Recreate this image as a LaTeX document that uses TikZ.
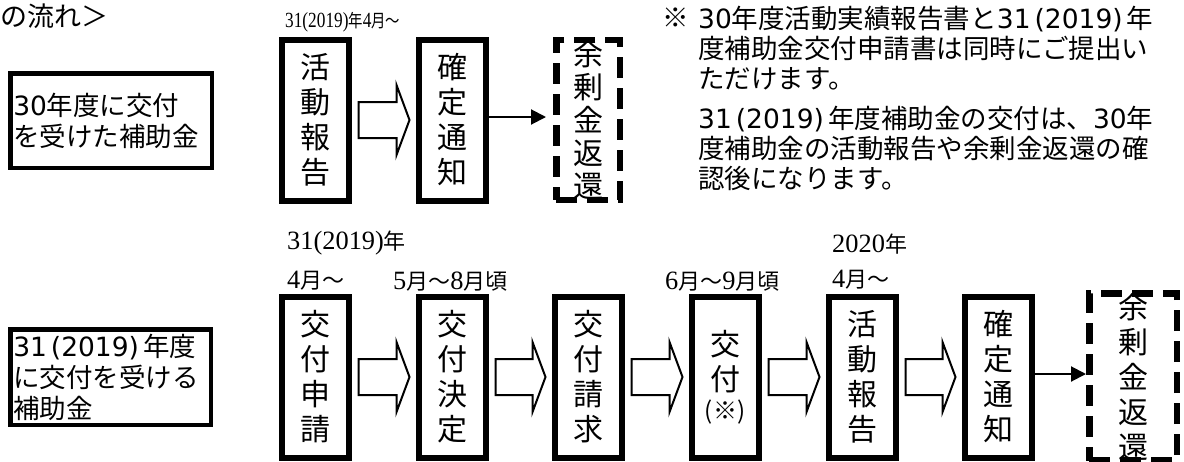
\documentclass[tikz,border=0pt]{standalone}
\usepackage{fontspec}
\newfontfamily\jp{Noto Sans CJK JP}
\newfontfamily\lserif[Scale=1.2]{Liberation Serif}
\newfontfamily\dsans{DejaVu Sans}
\usetikzlibrary{calc,arrows.meta}
\newcommand{\dg}[1]{{\lserif #1}}
\newcommand{\nd}[1]{{\dsans #1}}
\newcommand{\yr}{\nd{31}\kern4pt\nd{(2019)}\kern4pt}
\newcommand{\harr}[2]{\draw[harrow] ($(#1.east)+(7,-18)$) -- ($(#2.west)+(-19,-18)$) -- ($(#2.west)+(-19,-35)$) -- ($(#2.west)+(-6,0)$) -- ($(#2.west)+(-19,35)$) -- ($(#2.west)+(-19,18)$) -- ($(#1.east)+(7,18)$) -- cycle;}
\begin{document}
\begin{tikzpicture}[x=1pt,y=-1pt,
  every node/.style={inner sep=0pt},
  stepbox/.style={draw, line width=6pt, minimum width=67pt, minimum height=161pt, align=center, font=\jp\fontsize{30}{35}\selectfont},
  dashbox/.style={draw, line width=6.5pt, dash pattern=on 21pt off 10pt, minimum height=160pt, align=center, font=\jp\fontsize{30}{35}\selectfont},
  yearbox/.style={draw, line width=4.5pt, inner xsep=3pt, align=left, font=\jp\fontsize{26.5}{31}\selectfont},
  harrow/.style={draw, line width=2pt, fill=white, line join=miter},
  thinarrow/.style={line width=2pt, -{Triangle[length=15pt,width=15pt]}},
  lblb/.style={anchor=west, font=\jp\fontsize{22}{26}\selectfont},
  lblt/.style={anchor=west, font=\jp\fontsize{18}{21}\selectfont},
  notetxt/.style={anchor=west, align=left, font=\jp\fontsize{26.5}{30}\selectfont}
]
\useasboundingbox (0,0) rectangle (1184,461);
\fill[white] (0,0) rectangle (1184,461);

% heading fragment
\node[anchor=west, font=\jp\fontsize{27}{30}\selectfont] (head) at (0,16) {の流れ＞};

% left category boxes
\node[yearbox, text width=195.5pt, minimum height=94.5pt] (cat1) at (111,120.5) {\nd{30}年度に交付\\を受けた補助金};
\node[yearbox, text width=194.5pt, minimum height=95.5pt] (cat2) at (110.5,377) {\yr 年度\\に交付を受ける\\補助金};

% top row
\node[lblt] (t0) at (285,22) {\scalebox{0.8}[1]{\dg{31(2019)}年\dg{4}月～}};
\node[stepbox] (a1) at (315,120) {活\\動\\報\\告};
\node[stepbox] (b1) at (452,120) {確\\定\\通\\知};
\node[dashbox, minimum width=63.5pt, font=\jp\fontsize{30}{33}\selectfont] (c1) at (588,120) {余\\剰\\金\\返\\還};
\harr{a1}{b1}
\draw[thinarrow, shorten >=7pt] ($(b1.east)+(0,-3)$) -- ($(c1.west)+(0,-3)$);

% note
\node[anchor=west, font=\jp\fontsize{26.5}{30}\selectfont] (mark) at (662,18) {※};
\node[notetxt] (n1) at (698,48) {\nd{30}年度活動実績報告書と\yr 年\\度補助金交付申請書は同時にご提出い\\ただけます。};
\node[notetxt] (n2) at (698,148) {\yr 年度補助金の交付は、\nd{30}年\\度補助金の活動報告や余剰金返還の確\\認後になります。};

% bottom labels
\node[lblb] (l1) at (287,243) {\dg{31(2019)}年};
\node[lblb] (l2) at (287,281) {\dg{4}月～};
\node[lblb] (l3) at (393,281) {\dg{5}月～\dg{8}月頃};
\node[lblb] (l4) at (665,281) {\dg{6}月～\dg{9}月頃};
\node[lblb] (l5) at (832,244) {\dg{2020}年};
\node[lblb] (l6) at (832,280) {\dg{4}月～};

% bottom row
\node[stepbox] (s1) at (315,377) {交\\付\\申\\請};
\node[stepbox] (s2) at (452,377) {交\\付\\決\\定};
\node[stepbox] (s3) at (588,377) {交\\付\\請\\求};
\node[stepbox] (s4) at (725,377) {交\\付\\[-6pt]{\fontsize{24}{28}\selectfont (※)}};
\node[stepbox] (s5) at (862,377) {活\\動\\報\\告};
\node[stepbox] (s6) at (998,377) {確\\定\\通\\知};
\node[dashbox, minimum width=87.5pt, minimum height=159pt] (s7) at (1133,377) {余\\剰\\金\\返\\還};
\harr{s1}{s2}
\harr{s2}{s3}
\harr{s3}{s4}
\harr{s4}{s5}
\harr{s5}{s6}
\draw[thinarrow] ($(s6.east)+(0,-3)$) -- ($(s7.west)+(0,-3)$);
\end{tikzpicture}
\end{document}
